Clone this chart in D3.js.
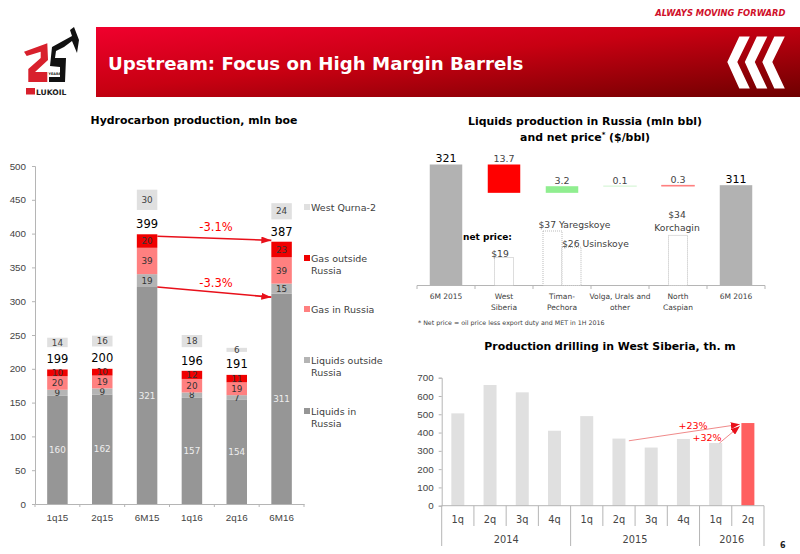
<!DOCTYPE html>
<html lang="en">
<head>
<meta charset="UTF-8">
<title>Upstream: Focus on High Margin Barrels</title>
<script src="https://d3js.org/d3.v7.min.js"></script>
<style>
    html, body { margin: 0; padding: 0; background: #fff; }
    svg { display: block; font-family: "DejaVu Sans", sans-serif; }
    text { fill: #404040; }
    .title { font-size: 10.9px; font-weight: bold; fill: #000; text-anchor: middle; }
    .tick-label { font-size: 9.8px; fill: #444; }
    .total { font-size: 11.5px; fill: #000; text-anchor: middle; }
    .seg { font-size: 8.8px; text-anchor: middle; }
    .pct { fill: #f00; text-anchor: middle; }
    .axis-line { stroke: #b5b5b5; stroke-width: 1; fill: none; }
</style>
</head>
<body>
<svg id="chart" width="800" height="554" viewBox="0 0 800 554"></svg>
<script>
// hydrocarbon production
const periods = ["1q15", "2q15", "6M15", "1q16", "2q16", "6M16"];
const liquidsRussia = [160, 162, 321, 157, 154, 311];
const liquidsOutside = [9, 9, 19, 8, 7, 15];
const gasRussia = [20, 19, 39, 20, 19, 39];
const gasOutside = [10, 10, 20, 12, 11, 23];
const totals = [199, 200, 399, 196, 191, 387];
const westQurna = [14, 16, 30, 18, 6, 24];
const qurnaBase = [232, 233, 435, 232, 225, 421]; // floats above the stack in the original
const hcTicks = [0, 50, 100, 150, 200, 250, 300, 350, 400, 450, 500];

// liquids waterfall
const wfCats = [["6M 2015"], ["West", "Siberia"], ["Timan-", "Pechora"], ["Volga, Urals and", "other"], ["North", "Caspian"], ["6M 2016"]];
const wfFrom = [262.5, 321, 307.3, 310.5, 310.9, 262.5];
const wfTo = [321, 307.3, 310.5, 310.6, 310.6, 311];
const wfLabels = ["321", "13.7", "3.2", "0.1", "0.3", "311"];

// net price
const netCats = ["West", "Yaregskoye", "Usinskoye", "North"];
const netPrice = [19, 37, 26, 34];

// drilling
const drillQuarters = ["1q", "2q", "3q", "4q", "1q", "2q", "3q", "4q", "1q", "2q"];
const drillValues = [505, 660, 620, 410, 490, 367, 318, 365, 343, 452];
const drillYears = [["2014", 0, 4], ["2015", 4, 8], ["2016", 8, 10]];
const drillTicks = [0, 100, 200, 300, 400, 500, 600, 700];

const svg = d3.select("#chart");
const defs = svg.append("defs");

const grad = defs.append("linearGradient").attr("id", "banner")
    .attr("x1", "0%").attr("y1", "0%").attr("x2", "100%").attr("y2", "100%");
grad.append("stop").attr("offset", "0%").attr("stop-color", "#f0002d");
grad.append("stop").attr("offset", "45%").attr("stop-color", "#c80012");
grad.append("stop").attr("offset", "100%").attr("stop-color", "#6e0000");

function arrowHead(id, color, w, h) {
    defs.append("marker").attr("id", id).attr("markerUnits", "userSpaceOnUse")
        .attr("markerWidth", w).attr("markerHeight", h)
        .attr("refX", w).attr("refY", h / 2).attr("orient", "auto")
        .append("path").attr("d", `M0,0L${w},${h / 2}L0,${h}Z`).attr("fill", color);
}
arrowHead("arrowBig", "#e8101a", 10, 7);
arrowHead("arrowSmall", "#e8101a", 9, 7);

// header
svg.append("rect").attr("x", 96).attr("y", 27).attr("width", 704).attr("height", 70).attr("fill", "url(#banner)");
svg.append("text").attr("x", 108).attr("y", 69.5)
    .attr("font-size", 18.2).attr("font-weight", "bold").style("fill", "#fff")
    .text("Upstream: Focus on High Margin Barrels");
svg.append("text").attr("x", 785.5).attr("y", 16).attr("text-anchor", "end")
    .attr("font-size", 8.4).attr("font-weight", "bold").attr("font-style", "italic").style("fill", "#d0102a")
    .text("ALWAYS MOVING FORWARD");

[0, 1, 2].forEach(i => {
    const dx = 727.3 + i * 17.5;
    svg.append("path").attr("fill", "#fff")
        .attr("d", `M${dx + 12},36.5 L${dx + 22.5},36.5 L${dx + 10},62 L${dx + 22.5},88.5 L${dx + 12},88.5 L${dx},62 Z`);
});

// logo
svg.append("path").attr("fill", "#d8202c")
    .attr("d", "M24,51.7 L47.3,43.3 L48,60 L35,72 L47.3,72 L47.3,82 L28.3,82 L28.3,69 L40.7,58 L40.7,51.7 L26.7,56 Z");
svg.append("path").attr("fill", "#111")
    .attr("d", "M52,47 L72,36 L70,30 L74,27 L79,40 L77,53 L72,41 L64,47 L56,51 L55,58 L66,58 L65,82 L49,82 L49,77 L60,77 L60,67 L50,66 Z");
svg.append("text").attr("x", 48.5).attr("y", 74.5).attr("font-size", 3.4).attr("font-weight", "bold").style("fill", "#111").text("YEARS");
svg.append("rect").attr("x", 26).attr("y", 88).attr("width", 9).attr("height", 6.5).attr("fill", "#d8202c");
svg.append("text").attr("x", 36).attr("y", 94.5).attr("font-size", 7.6).attr("font-weight", "bold").style("fill", "#222").text("LUKOIL");

// left chart
const hcX = d3.scaleBand().domain(periods).range([35, 304]);
const hcY = d3.scaleLinear().domain([0, 500]).range([504, 166]);
const barW = 20.5;
const hcColors = ["#969696", "#b4b4b4", "#ff8080", "#f00000"];
const segLabel = ["#eee", "#333", "#333", "#333"];
const stackSeries = [liquidsRussia, liquidsOutside, gasRussia, gasOutside];

svg.append("text").attr("class", "title").attr("x", 194).attr("y", 123.5).text("Hydrocarbon production, mln boe");

const hcAxisY = svg.append("g").attr("transform", "translate(35,0)")
    .call(d3.axisLeft(hcY).tickValues(hcTicks).tickSize(3).tickPadding(6));
const hcAxisX = svg.append("g").attr("transform", "translate(0,504)")
    .call(d3.axisBottom(hcX).tickSize(0).tickPadding(10));
[hcAxisY, hcAxisX].forEach(a => {
    a.selectAll("path,line").attr("stroke", "#b5b5b5");
    a.selectAll("text").attr("class", "tick-label").attr("font-family", null).attr("font-size", null);
});
hcAxisX.selectAll(".sep").data(d3.range(7)).enter().append("line")
    .attr("x1", i => 35 + i * hcX.bandwidth()).attr("x2", i => 35 + i * hcX.bandwidth())
    .attr("y1", 0).attr("y2", 3).attr("stroke", "#b5b5b5");

periods.forEach((p, i) => {
    const x = hcX(p) + hcX.bandwidth() / 2;
    let base = 0;
    stackSeries.forEach((s, k) => {
        const v = s[i];
        svg.append("rect").attr("x", x - barW / 2).attr("width", barW)
            .attr("y", hcY(base + v)).attr("height", hcY(base) - hcY(base + v)).attr("fill", hcColors[k]);
        svg.append("text").attr("class", "seg").attr("x", x).attr("y", hcY(base + v / 2) + 3.2)
            .style("fill", segLabel[k]).text(v);
        base += v;
    });
    svg.append("text").attr("class", "total").attr("x", x).attr("y", hcY(totals[i]) - 6.5).text(totals[i]);
    const q0 = hcY(qurnaBase[i]), q1 = hcY(qurnaBase[i] + westQurna[i]);
    svg.append("rect").attr("x", x - barW / 2).attr("width", barW).attr("y", q1).attr("height", q0 - q1).attr("fill", "#e0e0e0");
    svg.append("text").attr("class", "seg").attr("x", x).attr("y", (q0 + q1) / 2 + 3.2).text(westQurna[i]);
});

// growth arrows on the stack
const x6m15 = hcX("6M15") + hcX.bandwidth() / 2 + barW / 2;
const x6m16 = hcX("6M16") + hcX.bandwidth() / 2 - barW / 2;
svg.append("line").attr("x1", x6m15).attr("y1", hcY(396)).attr("x2", x6m16).attr("y2", hcY(390))
    .attr("stroke", "#e8101a").attr("stroke-width", 1.6).attr("marker-end", "url(#arrowBig)");
svg.append("line").attr("x1", x6m15).attr("y1", hcY(321)).attr("x2", x6m16).attr("y2", hcY(306))
    .attr("stroke", "#e8101a").attr("stroke-width", 1.6).attr("marker-end", "url(#arrowBig)");
svg.append("text").attr("class", "pct").attr("font-size", 11.5).attr("x", 216).attr("y", 231).text("-3.1%");
svg.append("text").attr("class", "pct").attr("font-size", 11.5).attr("x", 216).attr("y", 287).text("-3.3%");

// legend
const legendRows = [
    [["West Qurna-2"], 207, "#e0e0e0"],
    [["Gas outside", "Russia"], 258, "#f00000"],
    [["Gas in Russia"], 309, "#ff8080"],
    [["Liquids outside", "Russia"], 360, "#b4b4b4"],
    [["Liquids in", "Russia"], 411, "#969696"]
];
legendRows.forEach(([lines, y, color]) => {
    svg.append("rect").attr("x", 304).attr("y", y - 3).attr("width", 6).attr("height", 6).attr("fill", color);
    lines.forEach((l, j) => {
        svg.append("text").attr("x", 311).attr("y", y + 3.5 + j * 12).attr("font-size", 9.5).text(l);
    });
});

// waterfall
const wfX = d3.scaleBand().domain(d3.range(6)).range([417, 765]);
const wfY = d3.scaleLinear().domain([262.5, 321]).range([285.5, 164.5]);
const netY = d3.scaleLinear().domain([0, 37]).range([285.5, 231]);
const wfW = 32.5;
const wfColors = ["#b2b2b2", "#ff0000", "#90ee90", "#d8f5d8", "#ff8080", "#b2b2b2"];

svg.append("text").attr("class", "title").attr("x", 585).attr("y", 124.5).text("Liquids production in Russia (mln bbl)");
const t2 = svg.append("text").attr("class", "title").attr("x", 585).attr("y", 140.5);
t2.append("tspan").text("and net price");
t2.append("tspan").attr("font-size", 7).attr("dy", -4).text("*");
t2.append("tspan").attr("dy", 4).text(" ($/bbl)");

wfCats.forEach((c, i) => {
    const x = wfX(i) + wfX.bandwidth() / 2;
    const top = Math.min(wfY(wfFrom[i]), wfY(wfTo[i]));
    const bottom = Math.max(wfY(wfFrom[i]), wfY(wfTo[i]));
    svg.append("rect").attr("x", x - wfW / 2).attr("width", wfW).attr("y", top).attr("height", bottom - top)
        .attr("fill", wfColors[i]).attr("stroke", wfColors[i]).attr("stroke-width", bottom - top < 2 ? 1 : 0);
    const edge = i === 0 || i === 5;
    svg.append("text").attr("x", x).attr("y", top - 2.5).attr("text-anchor", "middle")
        .attr("font-size", edge ? 11 : 9.5).style("fill", edge ? "#000" : "#444").text(wfLabels[i]);
    c.forEach((l, j) => {
        svg.append("text").attr("x", x).attr("y", 299 + j * 10.5).attr("text-anchor", "middle")
            .attr("font-size", 7.5).text(l);
    });
});

const wfAxis = svg.append("g");
wfAxis.append("line").attr("class", "axis-line").attr("x1", 417).attr("x2", 765).attr("y1", 285.5).attr("y2", 285.5);
d3.range(7).forEach(i => {
    const x = 417 + i * wfX.bandwidth();
    wfAxis.append("line").attr("class", "axis-line").attr("x1", x).attr("x2", x).attr("y1", 285.5).attr("y2", 289);
});

// net price boxes sit inside the waterfall categories
const netCenter = [wfX(1) + wfX.bandwidth() / 2, wfX(2) + wfX.bandwidth() / 2 - 9.5, wfX(2) + wfX.bandwidth() / 2 + 9.5, wfX(4) + wfX.bandwidth() / 2];
netCats.forEach((c, i) => {
    svg.append("rect").attr("x", netCenter[i] - 9.5).attr("width", 19)
        .attr("y", netY(netPrice[i])).attr("height", netY(0) - netY(netPrice[i]))
        .attr("fill", "#fff").attr("stroke", "#aaa").attr("stroke-width", 0.8).attr("stroke-dasharray", "1 1");
});
const wfNote = (x, y, txt, anchor, size, weight) => svg.append("text").attr("x", x).attr("y", y)
    .attr("text-anchor", anchor || "start").attr("font-size", size || 9.2)
    .attr("font-weight", weight || "normal").text(txt);
wfNote(463, 239.5, "net price:", "start", 9, "bold").style("fill", "#000");
wfNote(500, 257, "$" + netPrice[0], "middle");
wfNote(538.5, 227.5, "$" + netPrice[1] + " Yaregskoye");
wfNote(562, 246.5, "$" + netPrice[2] + " Usinskoye");
wfNote(677, 218, "$" + netPrice[3], "middle");
wfNote(677, 230.5, "Korchagin", "middle");
wfNote(418, 325, "* Net price = oil price less export duty and MET in 1H 2016", "start", 6.3);

// drilling chart
const drX = d3.scaleBand().domain(d3.range(10)).range([441.7, 764]);
const drY = d3.scaleLinear().domain([0, 700]).range([505.7, 377.7]);
const drW = 13;

svg.append("text").attr("class", "title").attr("x", 610).attr("y", 349.5).text("Production drilling in West Siberia, th. m");

const drAxisY = svg.append("g").attr("transform", "translate(441.7,0)")
    .call(d3.axisLeft(drY).tickValues(drillTicks).tickSize(3).tickPadding(5));
drAxisY.selectAll("path,line").attr("stroke", "#b5b5b5");
drAxisY.selectAll("text").attr("class", "tick-label").attr("font-family", null).attr("font-size", null);

svg.selectAll(".dbar").data(drillValues).enter().append("rect")
    .attr("x", (d, i) => drX(i) + drX.bandwidth() / 2 - drW / 2)
    .attr("width", drW)
    .attr("y", d => drY(d))
    .attr("height", d => drY(0) - drY(d))
    .attr("fill", (d, i) => i === 9 ? "#ff5f5f" : "#e0e0e0");

svg.append("line").attr("class", "axis-line").attr("x1", 441.7).attr("x2", 764).attr("y1", 505.7).attr("y2", 505.7);
drillQuarters.forEach((q, i) => {
    const x = drX(i);
    svg.append("text").attr("class", "tick-label").attr("x", x + drX.bandwidth() / 2).attr("y", 523)
        .attr("text-anchor", "middle").text(q);
});
d3.range(11).forEach(i => {
    const isYear = drillYears.some(y => y[1] === i) || i === 10;
    svg.append("line").attr("class", "axis-line")
        .attr("x1", 441.7 + i * drX.bandwidth()).attr("x2", 441.7 + i * drX.bandwidth())
        .attr("y1", 505.7).attr("y2", isYear ? 546 : 526);
});
drillYears.forEach(([label, from, to]) => {
    svg.append("text").attr("class", "tick-label").attr("text-anchor", "middle")
        .attr("x", 441.7 + (from + to) / 2 * drX.bandwidth()).attr("y", 543).text(label);
});

svg.append("line").attr("x1", drX(5) + 26).attr("y1", drY(355)).attr("x2", drX(9) + 8).attr("y2", drY(445))
    .attr("stroke", "#f08a8a").attr("stroke-width", 1).attr("marker-end", "url(#arrowSmall)");
svg.append("line").attr("x1", drX(8) + 20).attr("y1", drY(343)).attr("x2", drX(9) + 8).attr("y2", drY(435))
    .attr("stroke", "#f08a8a").attr("stroke-width", 1).attr("marker-end", "url(#arrowSmall)");
svg.append("text").attr("class", "pct").attr("font-size", 9.5).attr("x", 693).attr("y", 429).text("+23%");
svg.append("text").attr("class", "pct").attr("font-size", 9.5).attr("x", 707).attr("y", 441).text("+32%");

svg.append("text").attr("x", 780).attr("y", 548).attr("font-size", 8).attr("font-weight", "bold").style("fill", "#222").text("6");
</script>
</body>
</html>
